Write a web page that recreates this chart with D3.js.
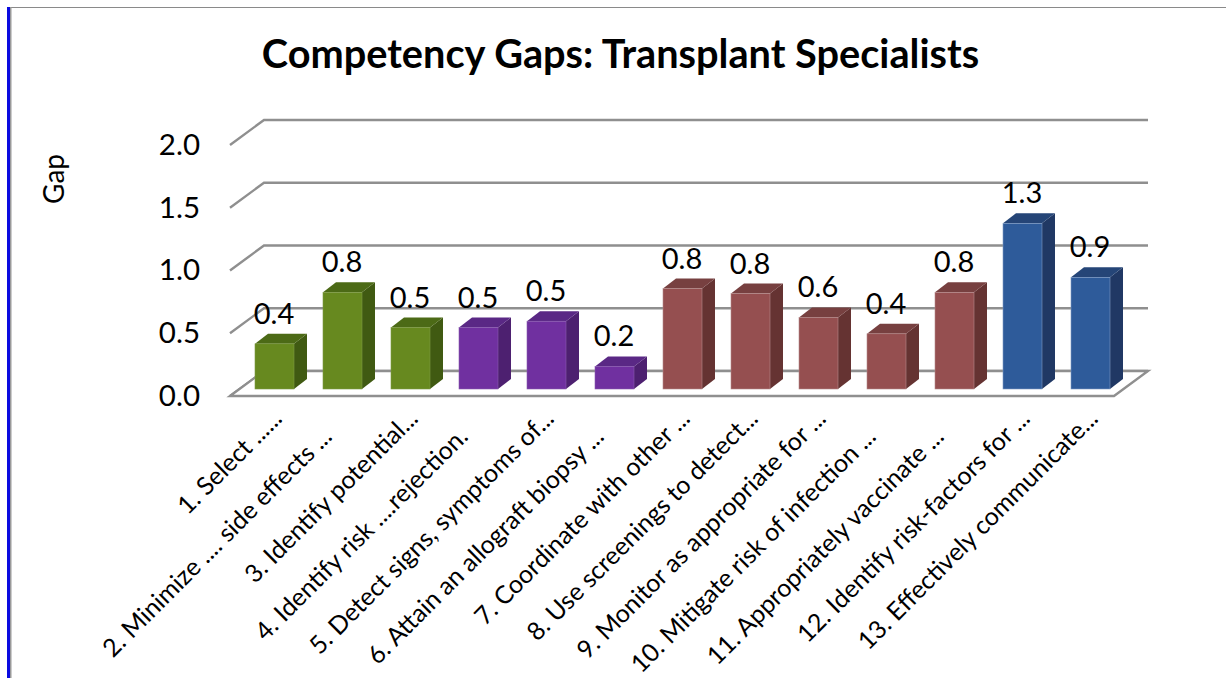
<!DOCTYPE html>
<html><head><meta charset="utf-8">
<script src="https://cdn.jsdelivr.net/npm/d3@7"></script>
<style>html,body{margin:0;background:#fff;overflow:hidden}svg{display:block}text{font-family:Lato,"Open Sans",sans-serif;fill:#000;white-space:pre}</style>
</head><body><svg id="c" width="1226" height="678"></svg>
<script>
const titleText = "Competency Gaps: Transplant Specialists";
const axisTitle = "Gap";
const categories = ["1. Select ......","2. Minimize .... side effects ...    ","3. Identify potential...","4. Identify risk ....rejection.    ","5. Detect signs, symptoms of...","6. Attain an allograft biopsy ...    ","7. Coordinate with other ...","8. Use screenings to detect...","9. Monitor as appropriate for ...","10. Mitigate risk of infection ...    ","11. Appropriately vaccinate ...    ","12. Identify risk-factors for ...","13. Effectively communicate..."];
const values = [0.36,0.77,0.49,0.49,0.54,0.18,0.8,0.76,0.57,0.44,0.77,1.32,0.89];
const labels = ["0.4","0.8","0.5","0.5","0.5","0.2","0.8","0.8","0.6","0.4","0.8","1.3","0.9"];
const groups = ["green","green","green","purple","purple","purple","red","red","red","red","red","blue","blue"];
const yTicks = [0,0.5,1,1.5,2];
const palette = {
  green:{front:"#67891f",side:"#405a12",top:"#4c6a16",edge:"#7d9a45"},
  purple:{front:"#7030a0",side:"#4d2070",top:"#5a2885",edge:"#8a5cb0"},
  red:{front:"#954f50",side:"#653332",top:"#774040",edge:"#b58a8a"},
  blue:{front:"#2e5b9a",side:"#203864",top:"#254577",edge:"#7f9cc4"}
};
const svg = d3.select("#c");
const floorL=230, floorR=1114, backDx=34, backDy=-25, barLift=-7, depthX=13, depthY=-10;
const x = d3.scaleBand().domain(d3.range(categories.length)).range([240.5,1124.5]).paddingInner(29/68).paddingOuter(14.5/68);
const y = d3.scaleLinear().domain([0,2]).range([396,145]);
const gridColor="#8f8f8f";

svg.append("rect").attr("x",7).attr("y",7).attr("width",1219).attr("height",1).attr("fill","#8a8a8a");
svg.append("rect").attr("x",7).attr("y",7).attr("width",3).attr("height",671).attr("fill","#0a0ae0");
svg.append("rect").attr("x",10).attr("y",7).attr("width",1.5).attr("height",671).attr("fill","#9a9a9a");

svg.append("text").attr("x",620.5).attr("y",68).attr("text-anchor","middle").attr("font-size",39.7).attr("font-weight",700).text(titleText);

svg.append("g").selectAll("path").data(yTicks).join("path")
  .attr("fill","none").attr("stroke",gridColor).attr("stroke-width",2.4)
  .attr("d",t=>{const p=d3.path();p.moveTo(floorL,y(t));p.lineTo(floorL+backDx,y(t)+backDy);p.lineTo(floorR+backDx,y(t)+backDy);return p.toString();});
svg.append("path").attr("fill","#fff").attr("stroke",gridColor).attr("stroke-width",2.4)
  .attr("d",`M${floorL},${y(0)}L${floorR},${y(0)}L${floorR+backDx},${y(0)+backDy}L${floorL+backDx},${y(0)+backDy}Z`);

const axis = svg.append("g").attr("transform","translate(200,0)").call(d3.axisLeft(y).tickValues(yTicks).tickSize(0).tickPadding(0).tickFormat(d3.format(".1f")));
axis.select(".domain").remove();
axis.selectAll("text").attr("font-size",29.5).style("font-family",'Lato,sans-serif');

svg.append("text").attr("transform","translate(64,179) rotate(-90)").attr("text-anchor","middle").attr("font-size",28).text(axisTitle);

const bars = svg.append("g").selectAll("g").data(values).join("g");
const w = x.bandwidth();
const by = v=>y(v)+barLift, b0=y(0)+barLift;
bars.append("path").attr("fill",(d,i)=>palette[groups[i]].side)
  .attr("d",(d,i)=>{const l=x(i)+w;return `M${l},${by(d)}L${l+depthX},${by(d)+depthY}L${l+depthX},${b0+depthY}L${l},${b0}Z`;});
bars.append("path").attr("fill",(d,i)=>palette[groups[i]].top)
  .attr("d",(d,i)=>{const l=x(i);return `M${l},${by(d)}L${l+depthX},${by(d)+depthY}L${l+w+depthX},${by(d)+depthY}L${l+w},${by(d)}Z`;});
bars.append("rect").attr("x",(d,i)=>x(i)).attr("y",d=>by(d)).attr("width",w).attr("height",d=>b0-by(d))
  .attr("fill",(d,i)=>palette[groups[i]].front).attr("stroke",(d,i)=>palette[groups[i]].edge).attr("stroke-width",0.6);

svg.append("g").selectAll("text").data(values).join("text")
  .attr("x",(d,i)=>x(i)+w/2-0.5).attr("y",d=>by(d)-20).attr("text-anchor","middle").attr("font-size",29)
  .text((d,i)=>labels[i]);

svg.append("g").selectAll("text").data(categories).join("text")
  .attr("transform",(d,i)=>`translate(${x(i)+w/2+9},420) rotate(-45)`)
  .attr("text-anchor","end").attr("font-size",25).text(d=>d);
</script></body></html>
